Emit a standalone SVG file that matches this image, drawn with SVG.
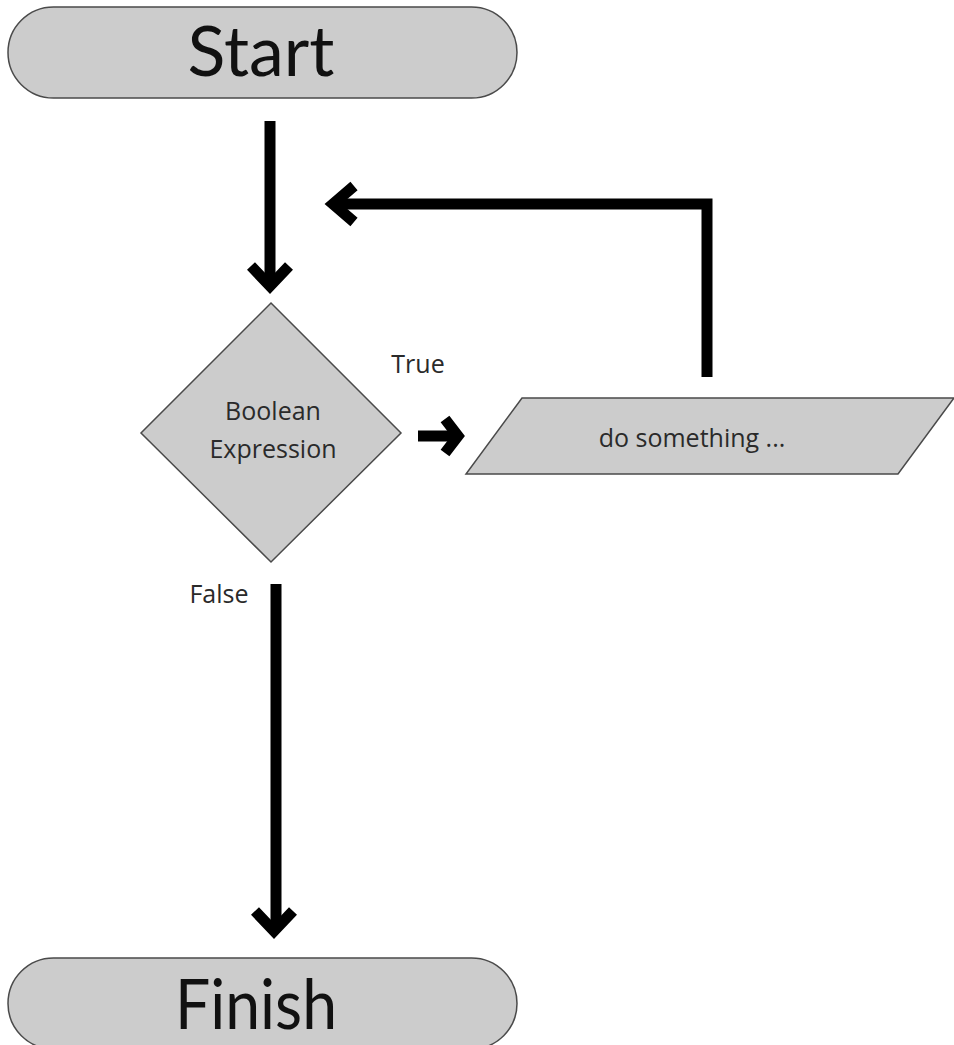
<svg xmlns="http://www.w3.org/2000/svg" width="954" height="1045" viewBox="0 0 954 1045">
<style>
.shape{fill:#cccccc;stroke:#4a4a4a;stroke-width:1.5}
.big{font-family:Lato,"Open Sans",sans-serif;font-size:70px;fill:#111;text-anchor:middle}
.lbl{font-family:"Open Sans",Lato,sans-serif;font-size:25px;fill:#2a2a2a;text-anchor:middle}
.edge{fill:none;stroke:#000;stroke-width:11;stroke-linecap:butt;stroke-linejoin:miter;stroke-miterlimit:10}
</style>
<rect width="954" height="1045" fill="#fff"/>
<g id="start">
<rect class="shape" x="8" y="7" width="509" height="91" rx="45.5"/>
<text class="big" x="261" y="76">Start</text>
</g>
<g id="decision">
<polygon class="shape" points="271,303 401,433 271,562 141,433"/>
<text class="lbl" x="273" y="420">Boolean</text>
<text class="lbl" x="273" y="458">Expression</text>
</g>
<g id="process">
<polygon class="shape" points="522,398 954,398 898,474 466,474"/>
<text class="lbl" x="692" y="447">do something ...</text>
</g>
<g id="finish">
<rect class="shape" x="8" y="958" width="509" height="91" rx="45.5"/>
<text class="big" x="256" y="1029" textLength="162" lengthAdjust="spacingAndGlyphs">Finish</text>
</g>
<g id="connectors">
<path class="edge" d="M270 121 V286"/>
<polyline class="edge" points="251,266 270,286 289,266"/>
<path class="edge" d="M707 377 V204 H334"/>
<polyline class="edge" points="354,186 333,204 354,222"/>
<path class="edge" d="M418 436 H456"/>
<polyline class="edge" points="445,419 458,436 445,453"/>
<path class="edge" d="M276 584 V930"/>
<polyline class="edge" points="255,911 274,931 293,911"/>
<text class="lbl" x="418" y="373">True</text>
<text class="lbl" x="219" y="603">False</text>
</g>
</svg>
